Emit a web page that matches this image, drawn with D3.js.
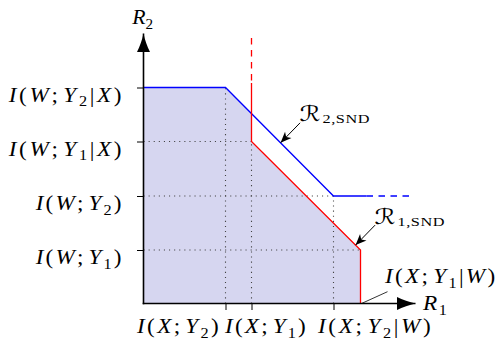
<!DOCTYPE html>
<html>
<head>
<meta charset="utf-8">
<script src="https://cdn.jsdelivr.net/npm/d3@7"></script>
<style>
  body { margin: 0; background: #fff; }
  text { font-family: "Liberation Serif", "Times New Roman", serif; fill: #000; }
</style>
</head>
<body>
<svg id="chart" width="503" height="343"></svg>
<script>
// Corner rates of the two simultaneous-non-unique-decoding regions.
const xTickLabels = ["I(X;Y_2)", "I(X;Y_1)", "I(X;Y_2|W)"];
const xTickValues = [0.82, 1.08, 1.90, 2.17];          // I(X;Y2), I(X;Y1), I(X;Y2|W), I(X;Y1|W)
const yTickLabels = ["I(W;Y_1)", "I(W;Y_2)", "I(W;Y_1|X)", "I(W;Y_2|X)"];
const yTickValues = [0.535, 1.075, 1.62, 2.16];         // I(W;Y1), I(W;Y2), I(W;Y1|X), I(W;Y2|X)
const blueRayExtent = [2.23, 2.665];                    // R1 range of the dashed continuation of R_2,SND
const redRayExtent = [2.205, 2.655];                    // R2 range of the dashed continuation of R_1,SND
const axisMax = [2.72, 2.70];

const [IXY2, IXY1, IXY2W, IXY1W] = xTickValues;
const [IWY1, IWY2, IWY1X, IWY2X] = yTickValues;

const svg = d3.select("#chart");
const x = d3.scaleLinear().domain([0, axisMax[0]]).range([143.5, 415.5]);
const y = d3.scaleLinear().domain([0, axisMax[1]]).range([303.5, 33.5]);
const line = d3.line().x(d => x(d[0])).y(d => y(d[1]));

// Arrowheads
const defs = svg.append("defs");
defs.append("marker").attr("id", "axisHead")
  .attr("viewBox", "-19 -7 20 14").attr("refX", 0).attr("refY", 0)
  .attr("markerUnits", "userSpaceOnUse").attr("markerWidth", 20).attr("markerHeight", 14)
  .attr("orient", "auto")
  .append("path").attr("d", "M0,0 C-6,-1.2 -13,-3.8 -18.5,-6.5 L-18.5,6.5 C-13,3.8 -6,1.2 0,0Z").attr("fill", "#000");
defs.append("marker").attr("id", "noteHead")
  .attr("viewBox", "-12 -5 13 10").attr("refX", 0).attr("refY", 0)
  .attr("markerUnits", "userSpaceOnUse").attr("markerWidth", 13).attr("markerHeight", 10)
  .attr("orient", "auto")
  .append("path").attr("d", "M0,0 L-11,-4.5 L-8,0 L-11,4.5Z").attr("fill", "#000");

// Achievable region: below both boundaries
const yCross = IWY2X - (IXY1 - IXY2) * (IWY2X - IWY2) / (IXY2W - IXY2);
const region = [[0, 0], [0, IWY2X], [IXY2, IWY2X], [IXY1, yCross], [IXY1, IWY1X], [IXY1W, IWY1], [IXY1W, 0]];
svg.append("path").attr("d", line(region) + "Z").attr("fill", "#d6d6f0");

// Dotted guides from the axes to the corner points
const guides = [
  [[0, IWY1X], [IXY1, IWY1X]],
  [[0, IWY2], [IXY2W, IWY2]],
  [[0, IWY1], [IXY1W, IWY1]],
  [[IXY2, 0], [IXY2, IWY2X]],
  [[IXY1, 0], [IXY1, IWY1X]],
  [[IXY2W, 0], [IXY2W, IWY2]]
];
svg.append("g").selectAll("path").data(guides).join("path")
  .attr("d", line).attr("fill", "none")
  .attr("stroke", "#444").attr("stroke-width", 1.1).attr("stroke-dasharray", "1.1 4");

// R_2,SND boundary (blue)
svg.append("path").attr("d", line([[0, IWY2X], [IXY2, IWY2X], [IXY2W, IWY2], [blueRayExtent[0], IWY2]]))
  .attr("fill", "none").attr("stroke", "#0000ff").attr("stroke-width", 1.3);
svg.append("path").attr("d", line([[blueRayExtent[0], IWY2], [blueRayExtent[1], IWY2]]))
  .attr("fill", "none").attr("stroke", "#0000ff").attr("stroke-width", 1.3).attr("stroke-dasharray", "6.5 5.5");

// R_1,SND boundary (red)
svg.append("path").attr("d", line([[IXY1, redRayExtent[1]], [IXY1, redRayExtent[0]]]))
  .attr("fill", "none").attr("stroke", "#ff0000").attr("stroke-width", 1.3).attr("stroke-dasharray", "6.5 5.5");
svg.append("path").attr("d", line([[IXY1, redRayExtent[0]], [IXY1, IWY1X], [IXY1W, IWY1], [IXY1W, 0]]))
  .attr("fill", "none").attr("stroke", "#ff0000").attr("stroke-width", 1.3);

// Axes
const xAxis = svg.append("g").attr("transform", `translate(0,${y(0)})`)
  .call(d3.axisBottom(x).tickValues(xTickValues.slice(0, 3)).tickSize(6.5).tickSizeOuter(0).tickFormat(""));
const yAxis = svg.append("g").attr("transform", `translate(${x(0)},0)`)
  .call(d3.axisLeft(y).tickValues(yTickValues).tickSize(6.5).tickSizeOuter(0).tickFormat(""));
[xAxis, yAxis].forEach(a => {
  a.select(".domain").attr("stroke-width", 1.6).attr("marker-end", "url(#axisHead)");
  a.selectAll(".tick line").attr("stroke-width", 1);
});
// axis paths run from the origin outward so the arrow sits at the far end
xAxis.select(".domain").attr("d", `M${x(0) - 0.8},0H${x(axisMax[0])}`);
yAxis.select(".domain").attr("d", `M0,${y(0) + 0.8}V${y(axisMax[1])}`);

// Math-style label: capitals italic at top level, "_" makes a subscript, "_{...}" a longer one.
// The label is widened to the requested width, partly by stretching the glyphs and partly by spacing.
function mathLabel(str, left, baseline, width, opts = {}) {
  const size = opts.size || 20, subSize = opts.subSize || 14;
  const g = svg.append("g").attr("transform", `translate(${left},${baseline})`);
  const t = g.append("text").attr("x", 0).attr("y", 0).attr("font-size", size);
  let i = 0, pendingDy = 0, pendingDx = 0, count = 0;
  while (i < str.length) {
    let ch = str[i];
    if (ch === "_") {
      let sub;
      if (str[i + 1] === "{") { const j = str.indexOf("}", i); sub = str.slice(i + 2, j); i = j + 1; }
      else { sub = str[i + 1]; i += 2; }
      const s = t.append("tspan").attr("dy", opts.subDrop || 4.5).attr("font-size", subSize).text(sub);
      if (opts.subDx) s.attr("dx", opts.subDx);
      pendingDy = -(opts.subDrop || 4.5);
      count += sub.length;
      continue;
    }
    const span = t.append("tspan").text(ch);
    if (/[A-Z]/.test(ch)) span.attr("font-style", "italic");
    if (ch === "ℛ") span.attr("font-family", "DejaVu Serif, DejaVu Sans").attr("font-size", opts.scriptSize || 20);
    if (pendingDy) { span.attr("dy", pendingDy); pendingDy = 0; }
    if (pendingDx) { span.attr("dx", pendingDx); pendingDx = 0; }
    if (ch === ";") pendingDx = 2.5;
    count += 1;
    i += 1;
  }
  if (width) {
    const natural = t.node().getBBox().width;
    const sx = Math.min(opts.maxStretch || 1.16, width / natural);
    const ls = Math.max(0, (width / sx - natural) / Math.max(1, count - 1));
    t.attr("letter-spacing", ls);
    t.attr("transform", `scale(${sx},1)`);
  }
  return g;
}

// y tick labels (right edges aligned, tops level with the tick)
yTickLabels.forEach((lab, k) => {
  const w = lab.includes("|") ? 114 : 87;
  mathLabel(lab, x(0) - 20.8 - w, y(yTickValues[k]) + 14, w);
});
// x tick labels
const xLabelShift = [-88.5, -26.5, -15.5];
const xLabelWidth = [83, 82, 114];
xTickLabels.forEach((lab, k) => {
  mathLabel(lab, x(xTickValues[k]) + xLabelShift[k], y(0) + 29.5, xLabelWidth[k]);
});

// Axis titles
mathLabel("R_2", x(0) - 11.2, y(axisMax[1]) - 9.5, 22);
mathLabel("R_1", x(axisMax[0]) + 7.5, y(0) + 6.5, 25);

// Annotations pointing at the two boundaries
const along = (p, q, t) => [p[0] + (q[0] - p[0]) * t, p[1] + (q[1] - p[1]) * t];
const tip2 = along([IXY2, IWY2X], [IXY2W, IWY2], 0.51);
const tip1 = along([IXY1, IWY1X], [IXY1W, IWY1], 0.955);
const notes = [
  { tip: tip2, label: "ℛ_{2,SND}" },
  { tip: tip1, label: "ℛ_{1,SND}" }
];
notes.forEach(n => {
  const px = x(n.tip[0]), py = y(n.tip[1]);
  svg.append("line").attr("x1", px + 19.5).attr("y1", py - 20).attr("x2", px).attr("y2", py)
    .attr("stroke", "#000").attr("stroke-width", 1).attr("marker-end", "url(#noteHead)");
  mathLabel(n.label, px + 19, py - 21.5, 70,
    { subSize: 13, subDrop: 2, scriptSize: 21, maxStretch: 1.25, subDx: 1 });
});

// Label for the R1 intercept of R_1,SND
const ix = x(IXY1W), iy = y(0);
svg.append("line").attr("x1", ix + 1).attr("y1", iy).attr("x2", ix + 27).attr("y2", iy - 11.8)
  .attr("stroke", "#000").attr("stroke-width", 0.8);
mathLabel("I(X;Y_1|W)", ix + 24.5, iy - 20.5, 111.5);
</script>
</body>
</html>
